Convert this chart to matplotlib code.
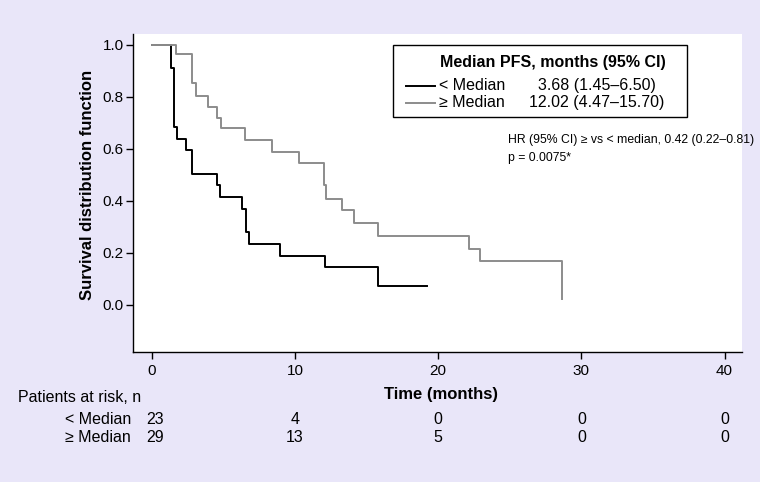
import matplotlib
matplotlib.use("Agg")
import matplotlib.pyplot as plt
from matplotlib.patches import Rectangle
from matplotlib.lines import Line2D

# ---------------- data ----------------
low_t = [0, 1.35, 1.55, 1.75, 2.4, 2.82, 4.58, 4.77, 6.29, 6.59, 6.8, 8.97, 12.11, 15.79, 19.22]
low_s = [1.0, 0.91, 0.685, 0.64, 0.595, 0.503, 0.46, 0.415, 0.37, 0.28, 0.235, 0.188, 0.145, 0.073, 0.073]

high_t = [0, 1.68, 2.8, 3.1, 3.91, 4.54, 4.82, 6.52, 8.43, 10.25, 12.0, 12.2, 13.28, 14.09, 15.79, 22.17, 22.94, 28.65]
high_s = [1.0, 0.965, 0.853, 0.804, 0.76, 0.718, 0.68, 0.635, 0.588, 0.545, 0.46, 0.408, 0.365, 0.314, 0.265, 0.215, 0.169, 0.023]

x_ticks = [0, 10, 20, 30, 40]
y_ticks = [0.0, 0.2, 0.4, 0.6, 0.8, 1.0]
risk_labels = ["< Median", "\u2265 Median"]
risk_low = [23, 4, 0, 0, 0]
risk_high = [29, 13, 5, 0, 0]
legend_title = "Median PFS, months (95% CI)"
legend_labels = ["< Median", "\u2265 Median"]
legend_values = ["3.68 (1.45\u20136.50)", "12.02 (4.47\u201315.70)"]
hr_text = "HR (95% CI) \u2265 vs < median, 0.42 (0.22\u20130.81)"
p_text = "p = 0.0075*"

# ---------------- figure ----------------
W, H = 760, 482
BG = "#E9E6F9"
C_LOW = "#000000"
C_HIGH = "#8C8C8C"
REG = ["Liberation Sans", "DejaVu Sans"]

fig = plt.figure(figsize=(W / 100, H / 100), dpi=100, facecolor=BG)

def fx(px):
    return px / W

def fy(py):
    return 1 - py / H

ax_l, ax_r, ax_t, ax_b = 132.7, 741.7, 34, 351.7
ax = fig.add_axes([fx(ax_l), fy(ax_b), fx(ax_r - ax_l), (ax_b - ax_t) / H])
ax.set_facecolor("white")

ax.step(low_t, low_s, where="post", color=C_LOW, lw=1.4)
ax.step(high_t, high_s, where="post", color=C_HIGH, lw=1.4)

ax.set_xlim(-1.33, 41.2)
ax.set_ylim(-0.18, 1.042)
ax.set_xticks(x_ticks)
ax.set_yticks(y_ticks)
ax.set_xticklabels([str(v) for v in x_ticks], family=REG, fontsize=11)
ax.set_yticklabels([f"{v:.1f}" for v in y_ticks], family=REG, fontsize=11)
ax.tick_params(axis="x", length=5, width=1, pad=4)
ax.tick_params(axis="y", length=5, width=1, pad=1.5)
for s in ["top", "right"]:
    ax.spines[s].set_visible(False)
for s in ["left", "bottom"]:
    ax.spines[s].set_linewidth(1.0)

fig.text(fx(87), fy(185), "Survival distribution function", family=REG, fontsize=12,
         fontweight="bold", rotation=90, ha="center", va="center")

fig.text(fx(441), fy(395), "Time (months)", family=REG, fontsize=12,
         fontweight="bold", ha="center", va="center")

# legend box
lb_l, lb_r, lb_t, lb_b = 392.7, 686.7, 45, 117.3
fig.patches.append(Rectangle((fx(lb_l), fy(lb_b)), fx(lb_r - lb_l), (lb_b - lb_t) / H,
                             transform=fig.transFigure, facecolor="white",
                             edgecolor="black", lw=1.0))
fig.text(fx(553), fy(62), legend_title, family=REG, fontsize=11.5,
         fontweight="bold", ha="center", va="center")
rows_y = [85.7, 102.7]
val_right = [656, 664]
for yy, col, lab, val, vr in zip(rows_y, [C_LOW, C_HIGH], legend_labels, legend_values, val_right):
    fig.lines.append(Line2D([fx(406), fx(435)], [fy(yy), fy(yy)],
                            transform=fig.transFigure, color=col, lw=1.4))
    fig.text(fx(439), fy(yy), lab, family=REG, fontsize=11.5, ha="left", va="center")
    fig.text(fx(vr), fy(yy), val, family=REG, fontsize=11.5, ha="right", va="center")

fig.text(fx(508), fy(140), hr_text, family=REG, fontsize=8.8, ha="left", va="center")
fig.text(fx(508), fy(158), p_text, family=REG, fontsize=8.8, ha="left", va="center")

# risk table
fig.text(fx(18), fy(398), "Patients at risk, n", family=REG, fontsize=11.5,
         ha="left", va="center")
for yy, lab, vals in zip([419, 437], risk_labels, [risk_low, risk_high]):
    fig.text(fx(131), fy(yy), lab, family=REG, fontsize=11.5, ha="right", va="center")
    for t, v in zip(x_ticks, vals):
        xpix = ax.transData.transform((t, 0))[0]
        fig.text(xpix / W + (fx(3) if t == 0 else 0), fy(yy), str(v), family=REG,
                 fontsize=11.5, ha="center", va="center")

fig.savefig("out.png", dpi=100, facecolor=BG)
